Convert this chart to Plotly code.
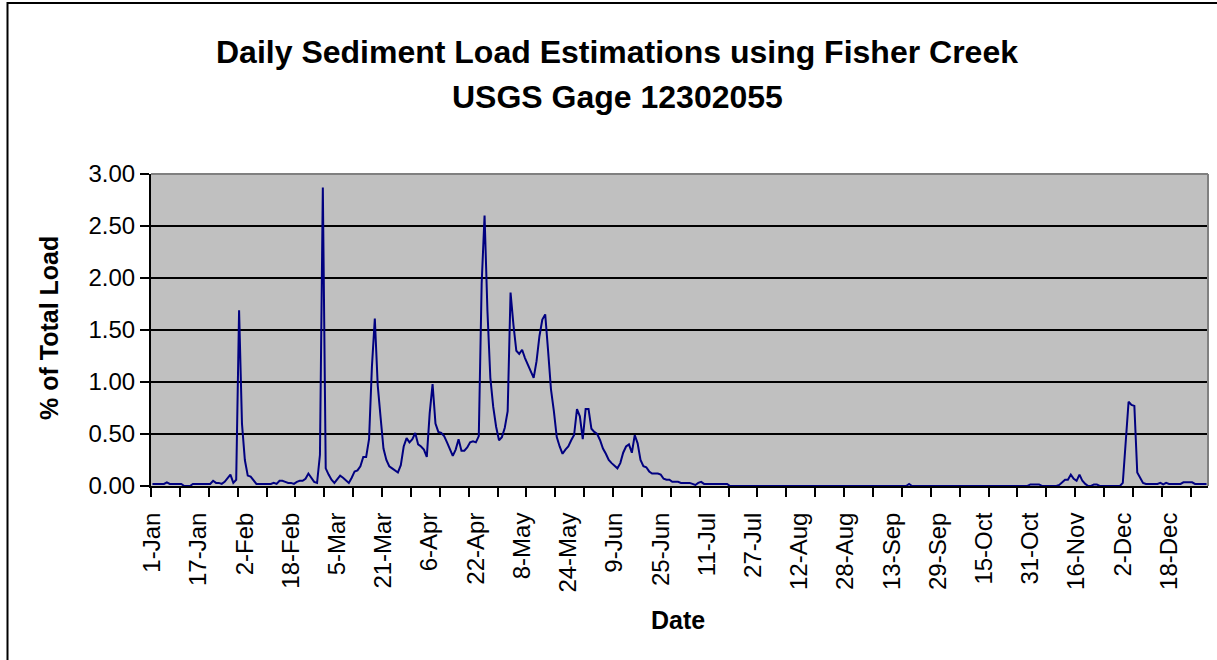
import pandas as pd
import plotly.graph_objects as go

# ---------------- data ----------------
dates = pd.date_range("2004-01-01", "2004-12-31", freq="D")
day_labels = [f"{d.day}-{d.strftime('%b')}" for d in dates]

load_pct = [
    0.02, 0.02, 0.02, 0.02, 0.02, 0.035, 0.02, 0.02, 0.02, 0.02,
    0.02, 0, 0, 0, 0.02, 0.02, 0.02, 0.02, 0.02, 0.02,
    0.02, 0.05, 0.03, 0.03, 0.02, 0.04, 0.07, 0.11, 0.03, 0.06,
    1.69, 0.60, 0.25, 0.10, 0.09, 0.05, 0.02, 0.02, 0.02, 0.02,
    0.02, 0.02, 0.03, 0.02, 0.05, 0.05, 0.04, 0.03, 0.03, 0.02,
    0.04, 0.05, 0.05, 0.07, 0.12, 0.08, 0.04, 0.03, 0.30, 2.87,
    0.17, 0.11, 0.06, 0.03, 0.06, 0.10, 0.08, 0.05, 0.03, 0.08,
    0.14, 0.15, 0.19, 0.28, 0.28, 0.45, 1.15, 1.61, 0.97, 0.66,
    0.36, 0.25, 0.19, 0.17, 0.15, 0.13, 0.20, 0.38, 0.46, 0.42,
    0.45, 0.51, 0.40, 0.38, 0.35, 0.28, 0.70, 0.98, 0.60, 0.52,
    0.51, 0.48, 0.42, 0.36, 0.29, 0.35, 0.45, 0.34, 0.34, 0.37,
    0.42, 0.43, 0.42, 0.48, 1.95, 2.60, 1.68, 1.04, 0.76, 0.57,
    0.44, 0.47, 0.56, 0.72, 1.86, 1.55, 1.30, 1.27, 1.31, 1.23,
    1.17, 1.10, 1.04, 1.20, 1.44, 1.60, 1.65, 1.30, 0.93, 0.72,
    0.47, 0.38, 0.31, 0.35, 0.38, 0.44, 0.49, 0.74, 0.67, 0.45,
    0.74, 0.74, 0.55, 0.52, 0.50, 0.44, 0.36, 0.31, 0.25, 0.22,
    0.19, 0.17, 0.22, 0.32, 0.38, 0.40, 0.32, 0.49, 0.41, 0.25,
    0.19, 0.18, 0.14, 0.12, 0.12, 0.12, 0.11, 0.07, 0.06, 0.06,
    0.04, 0.04, 0.04, 0.03, 0.03, 0.03, 0.03, 0.02, 0.01, 0.03,
    0.04, 0.02, 0.02, 0.02, 0.02, 0.02, 0.02, 0.02, 0.02, 0.02,
    0, 0, 0, 0, 0, 0, 0, 0, 0, 0,
    0, 0, 0, 0, 0, 0, 0, 0, 0, 0,
    0, 0, 0, 0, 0, 0, 0, 0, 0, 0,
    0, 0, 0, 0, 0, 0, 0, 0, 0, 0,
    0, 0, 0, 0, 0, 0, 0, 0, 0, 0,
    0, 0, 0, 0, 0, 0, 0, 0, 0, 0,
    0, 0, 0.02, 0, 0, 0, 0, 0, 0, 0,
    0, 0, 0, 0, 0, 0, 0, 0, 0, 0,
    0, 0, 0, 0, 0, 0, 0, 0, 0, 0,
    0, 0, 0, 0, 0, 0, 0, 0, 0, 0,
    0, 0, 0, 0, 0.015, 0.015, 0.015, 0.015, 0, 0,
    0, 0, 0, 0, 0.01, 0.04, 0.06, 0.06, 0.11, 0.07,
    0.05, 0.11, 0.05, 0.02, 0, 0, 0.015, 0.015, 0, 0,
    0, 0, 0, 0, 0, 0, 0.03, 0.45, 0.81, 0.78,
    0.77, 0.13, 0.08, 0.03, 0.02, 0.02, 0.02, 0.02, 0.02, 0.03,
    0.015, 0.03, 0.02, 0.02, 0.02, 0.02, 0.02, 0.035, 0.035, 0.035,
    0.035, 0.02, 0.02, 0.02, 0.02, 0.02,
]

label_step = 16
tick_step = 10
tick_idx = list(range(0, len(day_labels), label_step))
tick_text = [day_labels[i] for i in tick_idx]
minor_ticks = [i - 0.5 for i in range(0, len(day_labels), tick_step)]
y_ticks = [0, 0.5, 1.0, 1.5, 2.0, 2.5, 3.0]
y_text = [f"{v:.2f}" for v in y_ticks]

title_lines = ["Daily Sediment Load Estimations using Fisher Creek", "USGS Gage 12302055"]
y_title = "% of Total Load"
x_title = "Date"

# ---------------- layout geometry ----------------
W, H = 1217, 660
L, R, T, B = 151, 9, 174, 174
PW, PH = W - L - R, H - T - B


def px(x):
    return (x - L) / PW


def py(y):
    return (H - B - y) / PH


FONT = "Arial, Liberation Sans, sans-serif"

fig = go.Figure(
    go.Scatter(
        x=list(range(len(load_pct))),
        y=load_pct,
        mode="lines",
        line=dict(color="#000080", width=2),
        customdata=day_labels[: len(load_pct)],
        hovertemplate="%{customdata}: %{y:.2f}<extra></extra>",
    )
)

fig.update_layout(
    width=W,
    height=H,
    margin=dict(l=L, r=R, t=T, b=B, pad=0),
    paper_bgcolor="white",
    plot_bgcolor="#C0C0C0",
    showlegend=False,
    font=dict(family=FONT, color="black", size=24),
    xaxis=dict(
        range=[-0.5, len(day_labels) - 0.5],
        tickmode="array",
        tickvals=tick_idx,
        ticktext=tick_text,
        tickangle=-90,
        ticks="outside",
        ticklen=9,
        tickcolor="rgba(0,0,0,0)",
        ticklabelstandoff=6,
        tickfont=dict(family=FONT, size=24, color="black"),
        showline=True,
        linecolor="black",
        linewidth=2,
        showgrid=False,
        zeroline=False,
        minor=dict(
            tickmode="array",
            tickvals=minor_ticks,
            ticks="outside",
            ticklen=9,
            tickwidth=2,
            tickcolor="black",
            showgrid=False,
        ),
    ),
    yaxis=dict(
        range=[0, 3],
        tickmode="array",
        tickvals=y_ticks,
        ticktext=y_text,
        ticks="outside",
        ticklen=9,
        tickwidth=2,
        tickcolor="black",
        tickfont=dict(family=FONT, size=24, color="black"),
        showline=True,
        linecolor="black",
        linewidth=2,
        showgrid=True,
        gridcolor="black",
        gridwidth=2,
        zeroline=False,
    ),
    shapes=[
        # plot-area border (top and right, grey)
        dict(type="line", xref="paper", yref="paper", x0=0, x1=1, y0=1, y1=1,
             line=dict(color="#808080", width=2)),
        dict(type="line", xref="paper", yref="paper", x0=1, x1=1, y0=0, y1=1,
             line=dict(color="#808080", width=2)),
        # chart-area border
        dict(type="rect", xref="paper", yref="paper",
             x0=px(7.5), x1=px(1225), y0=py(668), y1=py(3),
             line=dict(color="black", width=2), fillcolor="rgba(0,0,0,0)"),
    ],
    annotations=[
        dict(text=f"<b>{title_lines[0]}</b>", xref="paper", yref="paper",
             x=px(617), y=py(52), xanchor="center", yanchor="middle",
             showarrow=False, font=dict(family=FONT, size=32, color="black")),
        dict(text=f"<b>{title_lines[1]}</b>", xref="paper", yref="paper",
             x=px(617), y=py(97), xanchor="center", yanchor="middle",
             showarrow=False, font=dict(family=FONT, size=32, color="black")),
        dict(text=f"<b>{y_title}</b>", xref="paper", yref="paper",
             x=px(49), y=py(328), xanchor="center", yanchor="middle", textangle=-90,
             showarrow=False, font=dict(family=FONT, size=25, color="black")),
        dict(text=f"<b>{x_title}</b>", xref="paper", yref="paper",
             x=px(678), y=py(620), xanchor="center", yanchor="middle",
             showarrow=False, font=dict(family=FONT, size=25, color="black")),
    ],
)

# the page body has a default 8px margin; remove it so the figure sits at the
# window's top-left corner like the reference
fig.write_html(
    "out.html",
    config={"displayModeBar": False},
    post_script="document.body.style.margin='0px';",
)
